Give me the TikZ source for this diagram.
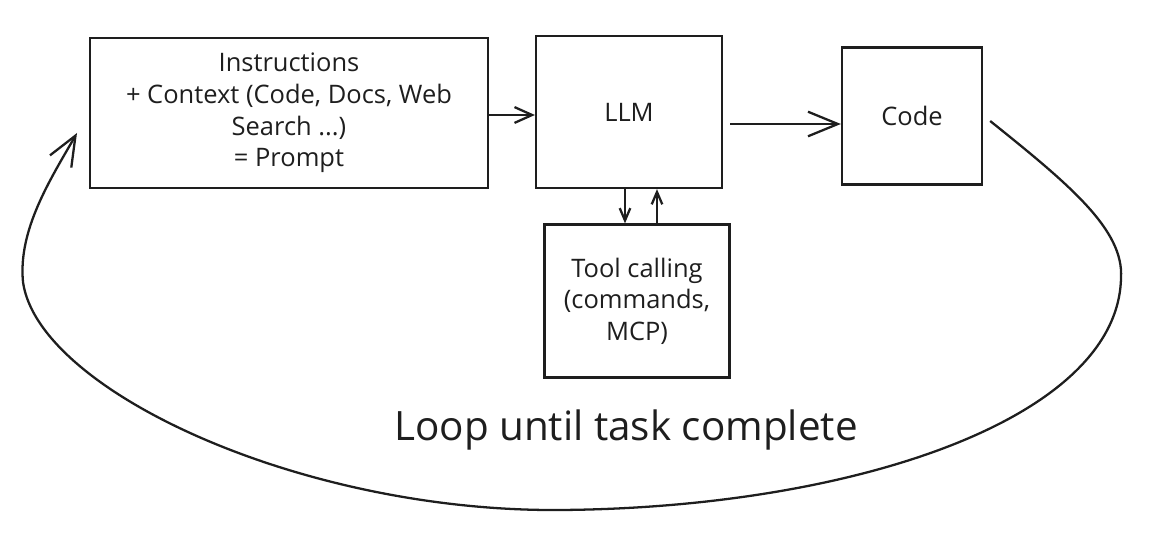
\documentclass[tikz,border=0pt]{standalone}
\usepackage{fontspec}
\setmainfont{Open Sans}
\usetikzlibrary{arrows.meta}
\begin{document}
\begin{tikzpicture}[x=0.02cm,y=-0.02cm,
  line width=1.3pt, draw={rgb,255:red,30;green,30;blue,30},
  box/.style={draw, rectangle, inner sep=0pt, align=center, font=\fontsize{14.5}{18}\selectfont, text={rgb,255:red,30;green,30;blue,30}},
  arr/.style={-{Straight Barb[length=10pt,width=9pt,line width=1.3pt]}},
  bigarr/.style={-{Straight Barb[length=17pt,width=14pt,line width=1.3pt]}},
  smallarr/.style={-{Straight Barb[length=7pt,width=6pt,line width=1.3pt]}},
  lbl/.style={font=\fontsize{23}{27}\selectfont, text={rgb,255:red,30;green,30;blue,30}}]
\useasboundingbox (0,0) rectangle (1150,540);
\node[box, minimum width=7.96cm, minimum height=3.0cm] (prompt) at (289,113)
  {Instructions\\+ Context (Code, Docs, Web\\Search ...)\\= Prompt};
\node[box, minimum width=3.72cm, minimum height=3.04cm] (llm) at (629,112) {LLM};
\node[box, minimum width=2.8cm, minimum height=2.74cm] (code) at (912,116) {Code};
\node[box, minimum width=3.7cm, minimum height=3.06cm] (tool) at (637,301)
  {Tool calling\\(commands,\\MCP)};
\node[lbl] (loop) at (626,430) {Loop until task complete};
\draw[arr] (prompt.east |- 0,115) -- (llm.west |- 0,115);
\draw[bigarr] ([xshift=4pt]llm.east |- 0,124) -- (code.west |- 0,124);
\draw[smallarr] (llm.south -| 625,0) -- (tool.north -| 625,0);
\draw[smallarr] (tool.north -| 657,0) -- (llm.south -| 657,0);
\coordinate (r) at (1121,278);
\coordinate (b) at (560,510);
\coordinate (l) at (23,282);
\coordinate (tip) at (77,133);
\draw[bigarr] ([xshift=4pt]code.east |- 0,121) .. controls (1070,185) and (1124,230) .. (r)
  .. controls (1118,420) and (850,508) .. (b)
  .. controls (300,512) and (38,390) .. (l)
  .. controls (18,230) and (50,180) .. (tip);
\end{tikzpicture}
\end{document}
